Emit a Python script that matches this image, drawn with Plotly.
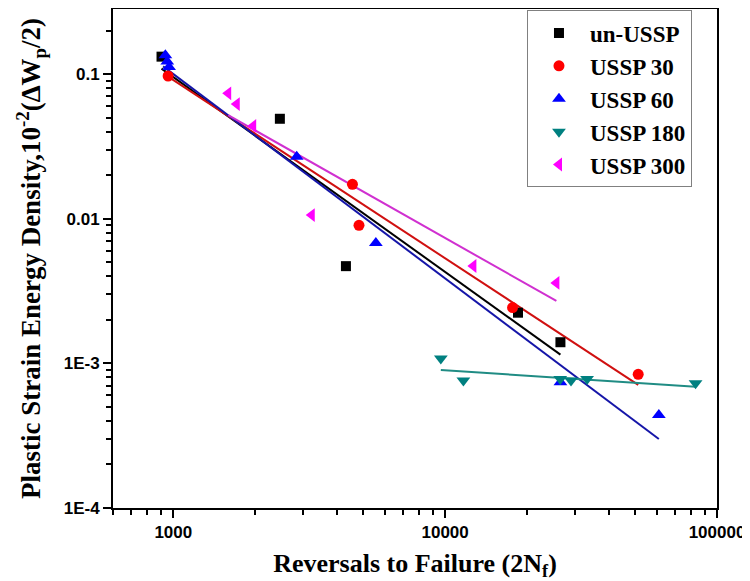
import plotly.graph_objects as go
import numpy as np

# ---- data ----
un_x = [905, 2466, 4315, 18530, 26550]
un_y = [0.132, 0.0491, 0.0047, 0.00224, 0.00140]

u30_x = [957, 4560, 4820, 17700, 51300]
u30_y = [0.097, 0.0173, 0.0090, 0.00243, 0.00084]

u60_x = [935, 950, 965, 2844, 5560, 26550, 61100]
u60_y = [0.135, 0.122, 0.112, 0.0268, 0.0068, 0.00074, 0.00044]

u180_x = [9640, 11670, 26500, 29040, 33270, 83400]
u180_y = [0.00108, 0.00076, 0.00078, 0.00076, 0.00078, 0.00073]

u300_x = [1592, 1711, 1967, 3230, 12700, 25650]
u300_y = [0.0736, 0.062, 0.0438, 0.0106, 0.00471, 0.00360]

# fitted lines (end points)
fit_un_x = [905, 26550]
fit_un_y = [0.109, 0.00115]
fit_30_x = [957, 51300]
fit_30_y = [0.096, 0.00071]
fit_60_x = [917, 61100]
fit_60_y = [0.113, 0.00030]
fit_180_x = [9640, 83400]
fit_180_y = [0.00090, 0.00069]
fit_300_x = [1592, 25650]
fit_300_y = [0.052, 0.0027]

names = ["un-USSP", "USSP 30", "USSP 60", "USSP 180", "USSP 300"]
x_tickvals = [1000, 10000, 100000]
x_ticktext = ["1000", "10000", "100000"]
y_tickvals = [1e-4, 1e-3, 0.01, 0.1]
y_ticktext = ["1E-4", "1E-3", "0.01", "0.1"]

series = [
    (un_x, un_y, fit_un_x, fit_un_y, "square", "#000000", "#000000", 10),
    (u30_x, u30_y, fit_30_x, fit_30_y, "circle", "#FF0000", "#D01010", 11),
    (u60_x, u60_y, fit_60_x, fit_60_y, "triangle-up", "#0000FF", "#1515A8", 12),
    (u180_x, u180_y, fit_180_x, fit_180_y, "triangle-down", "#008080", "#208C84", 12),
    (u300_x, u300_y, fit_300_x, fit_300_y, "triangle-left", "#FF00FF", "#D030D0", 12),
]

fig = go.Figure()
for (sx, sy, fx, fy, sym, mc, lc, ms) in series:
    fig.add_trace(go.Scatter(x=fx, y=fy, mode="lines", line=dict(color=lc, width=2),
                             showlegend=False, hoverinfo="skip"))
for (sx, sy, fx, fy, sym, mc, lc, ms), nm in zip(series, names):
    fig.add_trace(go.Scatter(x=sx, y=sy, mode="markers", name="<b>" + nm + "</b>",
                             marker=dict(symbol=sym, color=mc, size=ms, line=dict(width=0))))

minor_x = [m * 10 ** e for e in range(2, 5) for m in range(2, 10)]
minor_y = [m * 10 ** e for e in range(-4, 0) for m in range(2, 10)]

tick_font = dict(family="Liberation Sans, Arial", size=17, color="black")
serif = "Liberation Serif, Times New Roman"

fig.update_xaxes(type="log", range=[np.log10(600), 5],
                 tickvals=x_tickvals, ticktext=["<b>%s</b>" % t for t in x_ticktext],
                 ticks="outside", ticklen=8, tickwidth=2, tickcolor="black",
                 minor=dict(tickvals=minor_x, ticks="outside", ticklen=5, tickwidth=1.5, tickcolor="black"),
                 showline=True, linewidth=2, linecolor="black", mirror=True,
                 showgrid=False, zeroline=False,
                 tickfont=tick_font,
                 title=dict(text="<b>Reversals to Failure (2N<sub>f</sub>)</b>",
                            font=dict(family=serif, size=26, color="black"), standoff=12),
                 automargin=False)
fig.update_yaxes(type="log", range=[-4, -0.55],
                 tickvals=y_tickvals, ticktext=["<b>%s</b>" % t for t in y_ticktext],
                 ticks="outside", ticklen=8, tickwidth=2, tickcolor="black",
                 minor=dict(tickvals=minor_y, ticks="outside", ticklen=5, tickwidth=1.5, tickcolor="black"),
                 showline=True, linewidth=2, linecolor="black", mirror=True,
                 showgrid=False, zeroline=False,
                 tickfont=tick_font,
                 title=dict(text="<b>Plastic Strain Energy Density,10<sup>-2</sup>(ΔW<sub>p</sub>/2)</b>",
                            font=dict(family=serif, size=27, color="black"), standoff=15),
                 automargin=False)

fig.update_layout(
    width=750, height=573,
    margin=dict(l=105, r=41, t=1, b=73),
    paper_bgcolor="white", plot_bgcolor="white",
    font=dict(family="Liberation Sans, Arial", color="black"),
    legend=dict(x=0.6854, y=0.997, xanchor="left", yanchor="top",
                bgcolor="white", bordercolor="#808080", borderwidth=1,
                font=dict(family=serif, size=23, color="black"),
                itemwidth=52),
)

fig.write_html("out.html")
